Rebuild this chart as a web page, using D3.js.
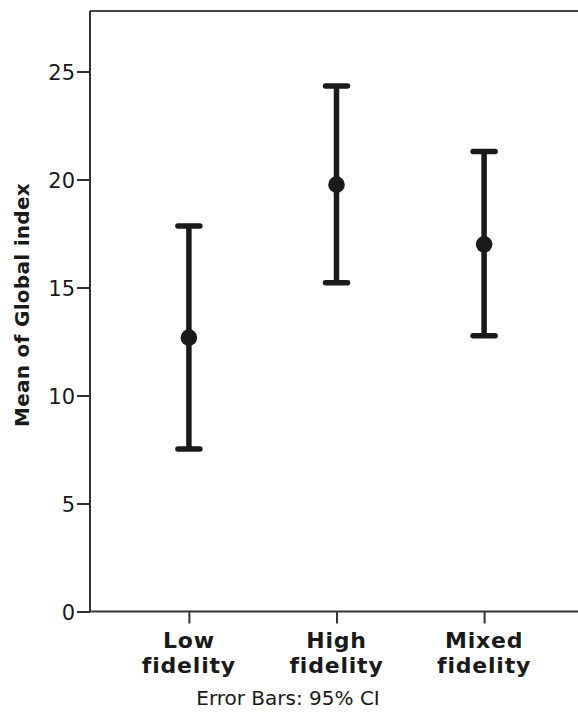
<!DOCTYPE html>
<meta charset="utf-8">
<style>
body { margin: 0; background: #fff; }
text { font-family: "DejaVu Sans", sans-serif; fill: #1a1a1a; }
</style>
<body>
<script src="https://cdn.jsdelivr.net/npm/d3@7"></script>
<script>

// data
var groups = ["Low fidelity", "High fidelity", "Mixed fidelity"];
var means = [12.68, 19.76, 17.0];
var lower = [7.52, 15.22, 12.77];
var upper = [17.85, 24.33, 21.29];
var yTicks = [0, 5, 10, 15, 20, 25];

var W = 578, H = 713;
var plotLeft = 90, plotTop = 11, plotBottom = 611.5;

var svg = d3.select("body").append("svg")
    .attr("width", W)
    .attr("height", H);

var x = d3.scalePoint().domain(groups).range([plotLeft, 583]).padding(0.67);
var y = d3.scaleLinear().domain([0, 27.8]).range([plotBottom, plotTop]);

// frame: top line
svg.append("line")
    .attr("x1", plotLeft).attr("x2", W)
    .attr("y1", plotTop).attr("y2", plotTop)
    .attr("stroke", "#444").attr("stroke-width", 2);

// y axis
var yAxis = svg.append("g")
    .attr("transform", "translate(" + plotLeft + ",0)")
    .call(d3.axisLeft(y).tickValues(yTicks).tickSize(13).tickPadding(2).tickSizeOuter(0));
yAxis.select(".domain").attr("d", "M0," + plotBottom + "V" + plotTop)
    .attr("stroke", "#333").attr("stroke-width", 2);
yAxis.selectAll(".tick line").attr("stroke", "#333").attr("stroke-width", 2);
yAxis.selectAll(".tick text")
    .attr("font-size", "21px")
    .attr("font-family", "DejaVu Sans, sans-serif")
    .attr("fill", "#1a1a1a")
    .attr("dy", "0.36em");

// x axis
var xAxis = svg.append("g")
    .attr("transform", "translate(0," + plotBottom + ")")
    .call(d3.axisBottom(x).tickSize(12).tickSizeOuter(0).tickFormat(""));
xAxis.select(".domain").attr("d", "M" + plotLeft + ",0H" + W).attr("stroke", "#333").attr("stroke-width", 2);
xAxis.selectAll(".tick line").attr("stroke", "#333").attr("stroke-width", 2);

// two-line category labels
groups.forEach(function(g) {
  var words = g.split(" ");
  var t = svg.append("text")
      .attr("text-anchor", "middle")
      .attr("font-weight", "bold")
      .attr("font-size", "22px")
      .attr("letter-spacing", "0.8px");
  words.forEach(function(w, i) {
    t.append("tspan")
        .attr("x", x(g))
        .attr("y", 648 + i * 25)
        .text(w);
  });
});

// error bars
var bars = svg.append("g");
groups.forEach(function(g, i) {
  var cx = x(g);
  bars.append("line")
      .attr("x1", cx).attr("x2", cx)
      .attr("y1", y(lower[i])).attr("y2", y(upper[i]))
      .attr("stroke", "#1a1a1a").attr("stroke-width", 5.5);
  [lower[i], upper[i]].forEach(function(v) {
    bars.append("line")
        .attr("x1", cx - 11).attr("x2", cx + 11)
        .attr("y1", y(v)).attr("y2", y(v))
        .attr("stroke", "#1a1a1a").attr("stroke-width", 5.5)
        .attr("stroke-linecap", "round");
  });
  bars.append("circle")
      .attr("cx", cx).attr("cy", y(means[i]))
      .attr("r", 8.3)
      .attr("fill", "#1a1a1a");
});

// y axis title
svg.append("text")
    .attr("transform", "translate(22,305) rotate(-90)")
    .attr("text-anchor", "middle")
    .attr("dy", "0.35em")
    .attr("font-weight", "bold")
    .attr("font-size", "20px")
    .attr("letter-spacing", "0.3px")
    .text("Mean of Global index");

// footnote
svg.append("text")
    .attr("x", 288)
    .attr("y", 705)
    .attr("text-anchor", "middle")
    .attr("font-size", "20px")
    .text("Error Bars: 95% CI");

</script>
</body>
